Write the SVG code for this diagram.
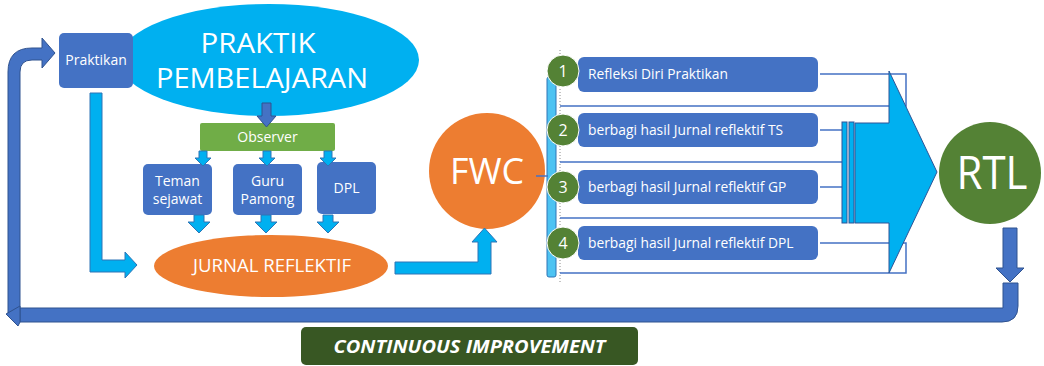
<svg xmlns="http://www.w3.org/2000/svg" width="1044" height="366" viewBox="0 0 1044 366">
<style>
text{font-family:"Open Sans","Liberation Sans",sans-serif;fill:#fff;}
.c{text-anchor:middle}
.box{fill:#4472C4}
.lb{fill:#00B0F0;stroke:#2E75B6;stroke-width:1}
.db{fill:#4472C4;stroke:#2F528F;stroke-width:1}
.ln{fill:none;stroke:#4472C4;stroke-width:1.5}
.num{fill:#548235;stroke:#fff;stroke-width:1}
.bt{font-size:13.8px}
.st{font-size:14px}
</style>
<rect width="1044" height="366" fill="#fff"/>
<g id="praktik-pembelajaran">
  <ellipse cx="269" cy="60" rx="150" ry="56" fill="#00B0F0"/>
  <text class="c" x="258" y="53" font-size="28" textLength="115" lengthAdjust="spacingAndGlyphs">PRAKTIK</text>
  <text class="c" x="262" y="88" font-size="28" textLength="212" lengthAdjust="spacingAndGlyphs">PEMBELAJARAN</text>
</g>
<g id="praktikan">
  <rect class="box" x="59" y="33" width="74" height="55" rx="5"/>
  <text class="c st" x="96" y="65">Praktikan</text>
</g>
<g id="observer">
  <rect x="200" y="123" width="135" height="28" rx="2" fill="#70AD47"/>
  <text class="c st" x="267.5" y="142">Observer</text>
</g>
<g id="teman-sejawat">
  <rect class="box" x="143" y="164" width="69" height="51" rx="5"/>
  <text class="c st" x="177.5" y="186">Teman</text>
  <text class="c st" x="177.5" y="204">sejawat</text>
</g>
<g id="guru-pamong">
  <rect class="box" x="233" y="164" width="69" height="51" rx="5"/>
  <text class="c st" x="267.5" y="186">Guru</text>
  <text class="c st" x="267.5" y="204">Pamong</text>
</g>
<g id="dpl">
  <rect class="box" x="317" y="162" width="59" height="52" rx="5"/>
  <text class="c st" x="346.5" y="193">DPL</text>
</g>
<g id="jurnal-reflektif">
  <ellipse cx="271" cy="266" rx="117" ry="31" fill="#ED7D31"/>
  <text class="c" x="272" y="272" font-size="19" textLength="158" lengthAdjust="spacingAndGlyphs">JURNAL REFLEKTIF</text>
</g>
<g id="fwc">
  <circle cx="487" cy="171" r="58" fill="#ED7D31"/>
  <text class="c" x="487" y="184" font-size="36" textLength="74" lengthAdjust="spacingAndGlyphs">FWC</text>
</g>
<g id="bar">
  <rect x="547" y="77" width="9" height="200" rx="2" fill="#4DC3F2" stroke="#2E75B6" stroke-width="1"/>
  <line x1="560" y1="50" x2="560" y2="284" stroke="#8a8a8a" stroke-width="1" stroke-dasharray="1,2"/>
</g>
<g id="step1">
  <rect class="box" x="578" y="57" width="240" height="35" rx="6"/>
  <text class="bt" x="588" y="79">Refleksi Diri Praktikan</text>
  <circle class="num" cx="563" cy="71" r="16"/>
  <text class="c" x="563" y="77" font-size="16">1</text>
</g>
<g id="step2">
  <rect class="box" x="578" y="113" width="240" height="34" rx="6"/>
  <text class="bt" x="588" y="135">berbagi hasil Jurnal reflektif TS</text>
  <circle class="num" cx="563" cy="130" r="16"/>
  <text class="c" x="563" y="136" font-size="16">2</text>
</g>
<g id="step3">
  <rect class="box" x="578" y="170" width="240" height="34" rx="6"/>
  <text class="bt" x="588" y="192">berbagi hasil Jurnal reflektif GP</text>
  <circle class="num" cx="563" cy="187" r="16"/>
  <text class="c" x="563" y="193" font-size="16">3</text>
</g>
<g id="step4">
  <rect class="box" x="578" y="226" width="240" height="34" rx="6"/>
  <text class="bt" x="588" y="248">berbagi hasil Jurnal reflektif DPL</text>
  <circle class="num" cx="563" cy="243" r="16"/>
  <text class="c" x="563" y="249" font-size="16">4</text>
</g>
<g id="rtl">
  <circle cx="990" cy="173" r="51" fill="#548235"/>
  <text class="c" x="992" y="189" font-size="45" textLength="71" lengthAdjust="spacingAndGlyphs">RTL</text>
</g>
<g id="continuous-improvement">
  <rect x="301" y="327" width="337" height="38" rx="5" fill="#385723"/>
  <text class="c" x="469.5" y="353" font-size="17" font-weight="bold" font-style="italic" textLength="272" lengthAdjust="spacingAndGlyphs">CONTINUOUS IMPROVEMENT</text>
</g>
<g id="connectors">
  <path class="db" d="M8,316 V72 Q8,48 32,48 H42 V38 L55,53 L42,68 V60 H32 Q20,60 20,72 V316 Z"/>
  <path class="db" d="M1003,283 H1018 V306 Q1018,322 1002,322 H20 V308 H1003 Z"/>
  <polygon class="db" points="20,306 6,314 18,326 20,322"/>
  <path class="db" d="M1003,228 H1017 V268 H1024 L1010,282 L996,268 H1003 Z"/>
  <path class="db" d="M262,103 H271 V116 H276 L266.5,127 L257,116 H262 Z"/>
  <path class="lb" d="M199,151 H207 V158 H211 L203,166 L195,158 H199 Z"/>
  <path class="lb" d="M263,151 H271 V158 H275 L267,166 L259,158 H263 Z"/>
  <path class="lb" d="M324,151 H332 V158 H336 L328,166 L320,158 H324 Z"/>
  <path class="lb" d="M194,215 H204 V222 H210 L199,233 L188,222 H194 Z"/>
  <path class="lb" d="M261,215 H271 V222 H277 L266,233 L255,222 H261 Z"/>
  <path class="lb" d="M323,215 H333 V222 H339 L328,233 L317,222 H323 Z"/>
  <path class="lb" d="M90,93 H102 V260 H125 V252 L137,265 L125,278 V272 H90 Z"/>
  <path class="lb" d="M395,262 H478 V242 H472 L484.5,228 L497,242 H491 V274 H395 Z"/>
  <line x1="536" y1="176" x2="548" y2="176" stroke="#4472C4" stroke-width="1.5"/>
  <path class="ln" d="M820,74 H906 V106 H560"/>
  <path class="ln" d="M820,130 H842"/>
  <path class="ln" d="M560,162 H842"/>
  <path class="ln" d="M820,187 H842"/>
  <path class="ln" d="M560,218 H842"/>
  <path class="ln" d="M820,243 H906 V273 H560"/>
  <rect x="842" y="122" width="5" height="101" fill="#00B0F0" stroke="#2F5597" stroke-width="1"/>
  <rect x="849" y="122" width="5" height="101" fill="#00B0F0" stroke="#2F5597" stroke-width="1"/>
  <path d="M855,123 H889 V71 L937,172 L889,273 V223 H855 Z" fill="#00B0F0" stroke="#2F5597" stroke-width="1"/>
</g>
</svg>
